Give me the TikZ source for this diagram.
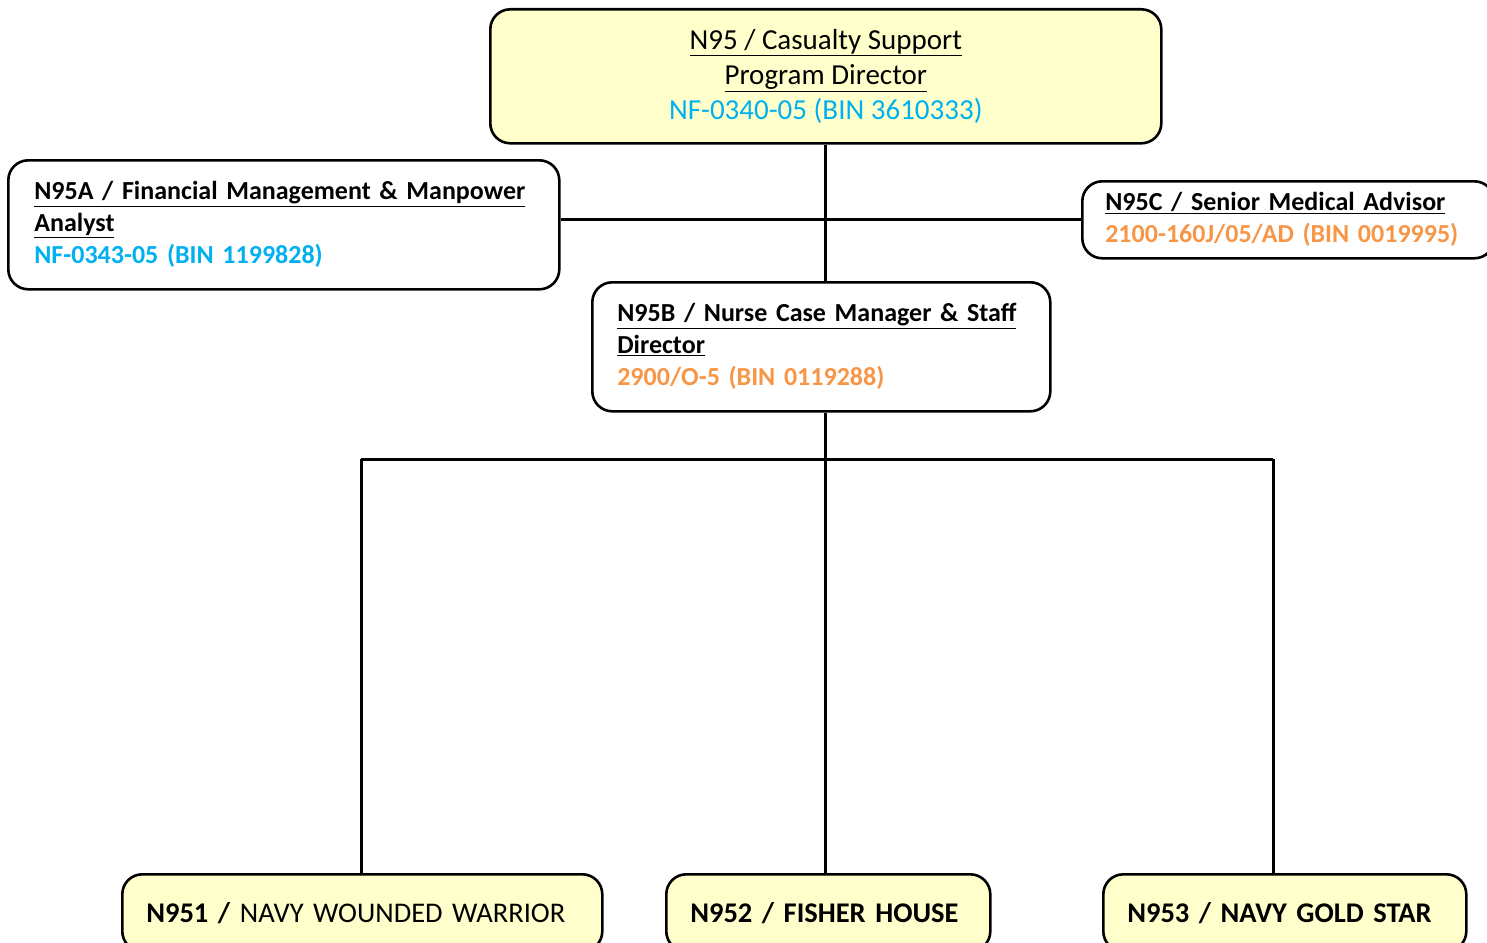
\documentclass[tikz,border=0pt]{standalone}
\usepackage{fontspec}
\setmainfont{Carlito}
\definecolor{bincyan}{HTML}{00B0F0}
\definecolor{binorange}{HTML}{F79646}
\definecolor{paleyellow}{HTML}{FFFFCC}
\tikzset{
  orgbox/.style={draw=black, line width=2.6pt, rounded corners=20pt, inner xsep=0pt, inner ysep=0pt, anchor=north west},
  leftbox/.style={orgbox, fill=white, align=left, font=\fontsize{26}{32}\selectfont\bfseries},
  lowbox/.style={orgbox, fill=paleyellow, align=left, font=\fontsize{28.5}{32}\selectfont},
  link/.style={line width=3pt}
}
\begin{document}
\begin{tikzpicture}[x=1pt, y=-1pt]
\useasboundingbox (0,0) rectangle (1487,942);

% director
\node[orgbox, fill=paleyellow, minimum width=671pt, minimum height=134pt, align=center,
      font=\fontsize{29}{35}\selectfont] (top) at (489,8)
  {\underline{N95 / Casualty Support}\\ \underline{Program Director}\\ \textcolor{bincyan}{NF-0340-05 (BIN 3610333)}};

% staff positions
\node[leftbox, minimum width=551pt, minimum height=129pt, text width=499pt] (fin) at (7,159)
  {\underline{N95A / Financial Management \& Manpower}\\ \underline{Analyst}\\ \textcolor{bincyan}{NF-0343-05 (BIN 1199828)}};

\node[leftbox, minimum width=412pt, minimum height=77pt, text width=366pt] (med) at (1081,180)
  {\underline{N95C / Senior Medical Advisor}\\ \textcolor{binorange}{2100-160J/05/AD (BIN 0019995)}};

\node[leftbox, minimum width=458pt, minimum height=129pt, text width=408pt] (nurse) at (591,281)
  {\underline{N95B / Nurse Case Manager \& Staff}\\ \underline{Director}\\ \textcolor{binorange}{2900/O-5 (BIN 0119288)}};

% programs
\node[lowbox, minimum width=480pt, minimum height=77pt, text width=432pt] (ww) at (121,873)
  {\textbf{N951 /} NAVY WOUNDED WARRIOR};
\node[lowbox, minimum width=324pt, minimum height=77pt, text width=276pt] (fh) at (665,873)
  {\textbf{N952 / FISHER HOUSE}};
\node[lowbox, minimum width=363pt, minimum height=77pt, text width=315pt] (gs) at (1102,873)
  {\textbf{N953 / NAVY GOLD STAR}};

% junction points of the lower tree
\coordinate (hub) at (825,459);
\coordinate (jl) at (361,459);
\coordinate (jr) at (1273,459);

\draw[link] (top.south -| hub) -- (hub |- nurse.north);
\draw[link] (fin.east |- med.west) -- (med.west);
\draw[link] (hub |- nurse.south) -- (hub);
\draw[link] (jl) -- (jr);
\draw[link] (jl) -- (jl |- ww.north);
\draw[link] (hub) -- (hub |- fh.north);
\draw[link] (jr) -- (jr |- gs.north);
\end{tikzpicture}
\end{document}
